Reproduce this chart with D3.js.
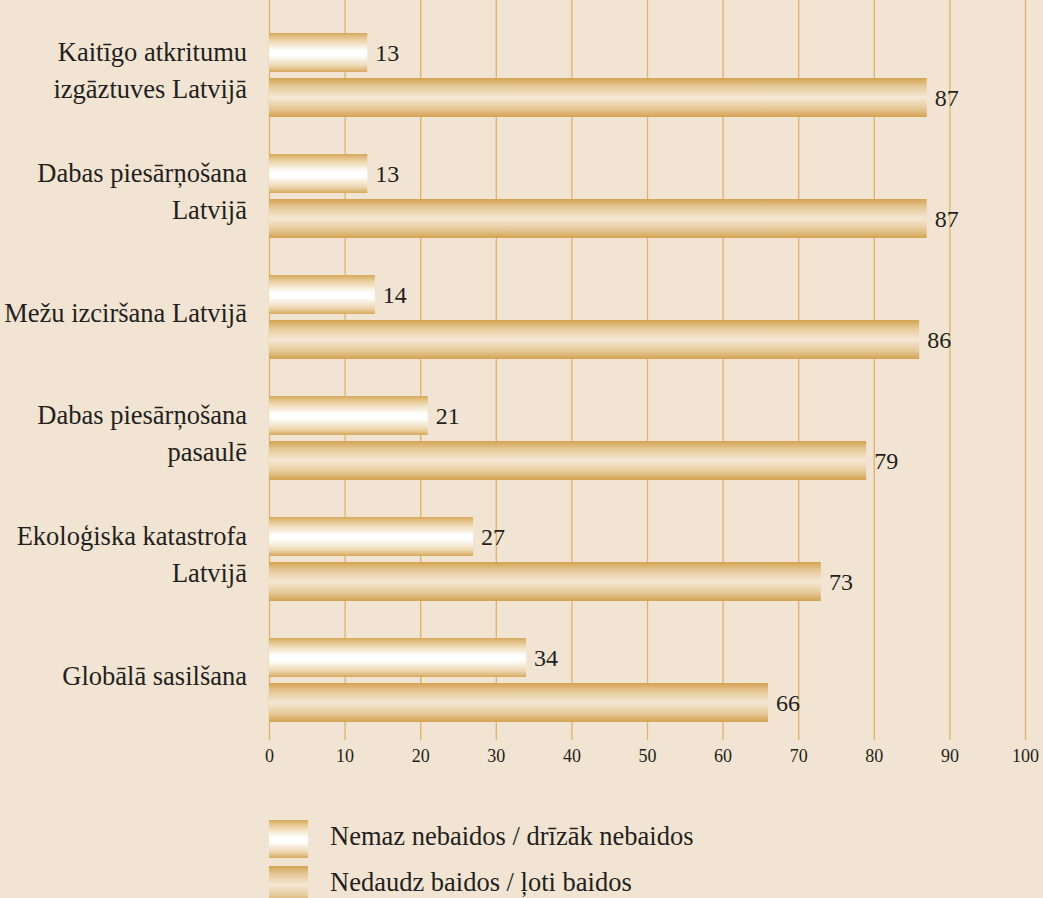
<!DOCTYPE html>
<html>
<head>
    <meta charset="utf-8">
    <title></title>
    <script src="https://d3js.org/d3.v7.min.js"></script>
    <style>
        html, body { margin: 0; padding: 0; background: #f2e4d2; }
        svg { display: block; }
    </style>
</head>
<body>
    <div id="chart"></div>
    <script>
        // Categories (each label split into lines) and values
        const categories = [
            ["Kaitīgo atkritumu", "izgāztuves Latvijā"],
            ["Dabas piesārņošana", "Latvijā"],
            ["Mežu izciršana Latvijā"],
            ["Dabas piesārņošana", "pasaulē"],
            ["Ekoloģiska katastrofa", "Latvijā"],
            ["Globālā sasilšana"]
        ];
        const seriesNames = ["Nemaz nebaidos / drīzāk nebaidos", "Nedaudz baidos / ļoti baidos"];
        const notAfraid = [13, 13, 14, 21, 27, 34];
        const afraid = [87, 87, 86, 79, 73, 66];
        const xTicks = [0, 10, 20, 30, 40, 50, 60, 70, 80, 90, 100];

        const width = 1043, height = 898;
        const serif = "'Liberation Serif', 'DejaVu Serif', serif";
        const ink = "#231f20";

        const svg = d3.select("#chart").append("svg")
            .attr("width", width)
            .attr("height", height)
            .attr("font-family", serif);

        svg.append("rect")
            .attr("width", width)
            .attr("height", height)
            .attr("fill", "#f2e4d2");

        // gradients
        const defs = svg.append("defs");
        const gradWhite = defs.append("linearGradient")
            .attr("id", "gWhite").attr("x1", 0).attr("y1", 0).attr("x2", 0).attr("y2", 1);
        [[0, "#d6a95c"], [0.18, "#ecd3a6"], [0.45, "#ffffff"], [0.58, "#ffffff"], [0.85, "#ecd6ae"], [1, "#d6a95c"]]
            .forEach(([o, c]) => gradWhite.append("stop").attr("offset", o).attr("stop-color", c));
        const gradGold = defs.append("linearGradient")
            .attr("id", "gGold").attr("x1", 0).attr("y1", 0).attr("x2", 0).attr("y2", 1);
        [[0, "#d3a352"], [0.22, "#e6c998"], [0.5, "#f4e8d6"], [0.78, "#e6c998"], [1, "#d3a352"]]
            .forEach(([o, c]) => gradGold.append("stop").attr("offset", o).attr("stop-color", c));
        const fills = ["url(#gWhite)", "url(#gGold)"];

        // scales
        const x = d3.scaleLinear().domain([0, 100]).range([269, 1025]);

        const y = d3.scaleBand()
            .domain(d3.range(categories.length))
            .range([33, 722])
            .paddingInner(37 / 121)
            .paddingOuter(0);

        const ySub = d3.scaleBand()
            .domain([0, 1])
            .range([0, y.bandwidth()])
            .paddingInner(6 / 45);

        const gridBottom = 740;

        // grid + axis
        const axis = svg.append("g")
            .attr("transform", `translate(0,${gridBottom})`)
            .call(d3.axisBottom(x).tickValues(xTicks).tickSize(-gridBottom).tickPadding(9)
                .tickFormat(d3.format("d")));
        axis.attr("font-family", serif).attr("font-size", 18);
        axis.select(".domain").remove();
        axis.selectAll(".tick line")
            .attr("stroke", "#dfb26a")
            .attr("stroke-width", 1.3);
        axis.selectAll(".tick text").attr("fill", ink);

        // bars
        const series = [notAfraid, afraid];
        const groups = svg.append("g").selectAll("g")
            .data(categories)
            .join("g")
            .attr("transform", (d, i) => `translate(0,${y(i)})`);

        series.forEach((vals, s) => {
            groups.append("rect")
                .attr("x", x(0))
                .attr("y", ySub(s))
                .attr("width", (d, i) => x(vals[i]) - x(0))
                .attr("height", ySub.bandwidth())
                .attr("fill", fills[s]);

            groups.append("text")
                .attr("x", (d, i) => x(vals[i]) + 8)
                .attr("y", ySub(s) + ySub.bandwidth() / 2)
                .attr("dy", "0.35em")
                .attr("fill", ink)
                .attr("font-size", 24)
                .text((d, i) => vals[i]);
        });

        // category labels
        const lineH = 37;
        groups.append("text")
            .attr("text-anchor", "end")
            .attr("fill", ink)
            .attr("font-size", 26.5)
            .each(function (lines) {
                const t = d3.select(this);
                const cy = y.bandwidth() / 2 - 4;
                lines.forEach((ln, k) => {
                    t.append("tspan")
                        .attr("x", 247)
                        .attr("y", cy + (k - (lines.length - 1) / 2) * lineH)
                        .attr("dy", "0.33em")
                        .text(ln);
                });
            });

        // legend
        const legend = svg.append("g").attr("transform", "translate(269,820)");
        seriesNames.forEach((name, s) => {
            const g = legend.append("g").attr("transform", `translate(0,${s * 46})`);
            g.append("rect")
                .attr("width", 39)
                .attr("height", 38)
                .attr("fill", fills[s]);
            g.append("text")
                .attr("x", 61)
                .attr("y", 25)
                .attr("fill", ink)
                .attr("font-size", 26.5)
                .text(name);
        });
    </script>
</body>
</html>
